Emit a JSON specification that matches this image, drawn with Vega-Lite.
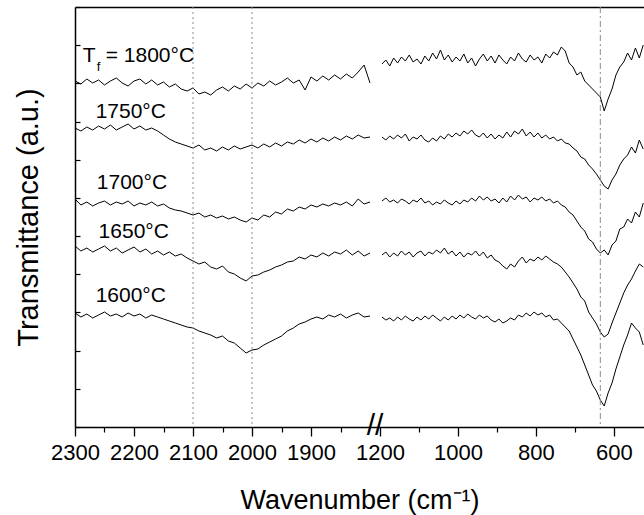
{
"$schema": "https://vega.github.io/schema/vega-lite/v6.json",
"width": 569, "height": 420,
"autosize": {"type": "none"},
"padding": {"left": 75, "top": 7, "right": 0, "bottom": 88},
"config": {"font": "Liberation Sans", "view": {"stroke": null},
  "axis": {"domainColor": "#000", "tickColor": "#000", "labelColor": "#000", "titleColor": "#000", "grid": false, "titleFontWeight": "normal"}},
"datasets": {
"spec": [
{"w":2300,"p":"L","a":346,"b":299,"c":228,"d":181,"e":114},
{"w":2290,"p":"L","a":343,"b":296,"c":222,"d":176,"e":110},
{"w":2280,"p":"L","a":348,"b":300,"c":225,"d":179,"e":113},
{"w":2270,"p":"L","a":344,"b":297,"c":221,"d":175,"e":109},
{"w":2260,"p":"L","a":347,"b":301,"c":224,"d":178,"e":112},
{"w":2250,"p":"L","a":342,"b":298,"c":226,"d":181,"e":115},
{"w":2240,"p":"L","a":346,"b":302,"c":222,"d":176,"e":111},
{"w":2230,"p":"L","a":349,"b":297,"c":225,"d":179,"e":113},
{"w":2220,"p":"L","a":344,"b":300,"c":223,"d":174,"e":110},
{"w":2210,"p":"L","a":341,"b":303,"c":226,"d":177,"e":114},
{"w":2200,"p":"L","a":346,"b":298,"c":221,"d":180,"e":111},
{"w":2190,"p":"L","a":348,"b":301,"c":224,"d":175,"e":113},
{"w":2180,"p":"L","a":343,"b":297,"c":222,"d":178,"e":109},
{"w":2170,"p":"L","a":347,"b":299,"c":225,"d":173,"e":112},
{"w":2160,"p":"L","a":342,"b":296,"c":221,"d":176,"e":110},
{"w":2150,"p":"L","a":345,"b":292,"c":223,"d":172,"e":108},
{"w":2140,"p":"L","a":340,"b":288,"c":219,"d":175,"e":106},
{"w":2130,"p":"L","a":343,"b":285,"c":217,"d":171,"e":104},
{"w":2120,"p":"L","a":338,"b":283,"c":216,"d":173,"e":102},
{"w":2110,"p":"L","a":336,"b":281,"c":214,"d":169,"e":100},
{"w":2100,"p":"L","a":339,"b":279,"c":212,"d":166,"e":99},
{"w":2090,"p":"L","a":333,"b":282,"c":214,"d":163,"e":96},
{"w":2080,"p":"L","a":335,"b":277,"c":210,"d":165,"e":94},
{"w":2070,"p":"L","a":332,"b":279,"c":212,"d":160,"e":92},
{"w":2060,"p":"L","a":337,"b":276,"c":209,"d":158,"e":89},
{"w":2050,"p":"L","a":340,"b":280,"c":211,"d":161,"e":91},
{"w":2040,"p":"L","a":336,"b":277,"c":208,"d":155,"e":86},
{"w":2030,"p":"L","a":341,"b":281,"c":210,"d":153,"e":84},
{"w":2020,"p":"L","a":338,"b":278,"c":207,"d":149,"e":79},
{"w":2010,"p":"L","a":343,"b":280,"c":205,"d":146,"e":74},
{"w":2000,"p":"L","a":339,"b":282,"c":209,"d":151,"e":77},
{"w":1990,"p":"L","a":344,"b":279,"c":207,"d":152,"e":78},
{"w":1980,"p":"L","a":341,"b":283,"c":212,"d":155,"e":82},
{"w":1970,"p":"L","a":346,"b":280,"c":210,"d":157,"e":85},
{"w":1960,"p":"L","a":342,"b":284,"c":215,"d":160,"e":88},
{"w":1950,"p":"L","a":345,"b":281,"c":213,"d":162,"e":91},
{"w":1940,"p":"L","a":349,"b":285,"c":218,"d":165,"e":96},
{"w":1930,"p":"L","a":344,"b":283,"c":216,"d":166,"e":99},
{"w":1920,"p":"L","a":347,"b":287,"c":220,"d":170,"e":103},
{"w":1910,"p":"L","a":337,"b":284,"c":218,"d":168,"e":105},
{"w":1900,"p":"L","a":350,"b":288,"c":222,"d":172,"e":108},
{"w":1890,"p":"L","a":346,"b":285,"c":220,"d":170,"e":110},
{"w":1880,"p":"L","a":351,"b":289,"c":223,"d":174,"e":108},
{"w":1870,"p":"L","a":347,"b":286,"c":221,"d":171,"e":112},
{"w":1860,"p":"L","a":352,"b":290,"c":224,"d":175,"e":110},
{"w":1850,"p":"L","a":348,"b":287,"c":222,"d":173,"e":113},
{"w":1840,"p":"L","a":353,"b":291,"c":225,"d":177,"e":109},
{"w":1830,"p":"L","a":349,"b":288,"c":221,"d":172,"e":112},
{"w":1820,"p":"L","a":355,"b":292,"c":228,"d":176,"e":114},
{"w":1810,"p":"L","a":362,"b":289,"c":223,"d":171,"e":110},
{"w":1800,"p":"L","a":344,"b":290,"c":225,"d":174,"e":111},
{"w":1195,"p":"R","a":363,"b":290,"c":226,"d":172,"e":110},
{"w":1185,"p":"R","a":367,"b":287,"c":229,"d":175,"e":107},
{"w":1175,"p":"R","a":361,"b":291,"c":225,"d":170,"e":109},
{"w":1165,"p":"R","a":369,"b":288,"c":227,"d":174,"e":106},
{"w":1155,"p":"R","a":364,"b":292,"c":224,"d":171,"e":110},
{"w":1145,"p":"R","a":370,"b":289,"c":228,"d":176,"e":107},
{"w":1135,"p":"R","a":366,"b":293,"c":226,"d":172,"e":111},
{"w":1125,"p":"R","a":372,"b":286,"c":223,"d":175,"e":108},
{"w":1115,"p":"R","a":365,"b":290,"c":227,"d":170,"e":106},
{"w":1105,"p":"R","a":368,"b":288,"c":225,"d":174,"e":110},
{"w":1095,"p":"R","a":363,"b":292,"c":229,"d":176,"e":107},
{"w":1085,"p":"R","a":371,"b":287,"c":224,"d":171,"e":111},
{"w":1075,"p":"R","a":366,"b":285,"c":226,"d":175,"e":108},
{"w":1065,"p":"R","a":374,"b":289,"c":222,"d":173,"e":112},
{"w":1055,"p":"R","a":368,"b":286,"c":225,"d":177,"e":109},
{"w":1045,"p":"R","a":377,"b":291,"c":223,"d":174,"e":106},
{"w":1035,"p":"R","a":367,"b":288,"c":227,"d":179,"e":110},
{"w":1025,"p":"R","a":372,"b":293,"c":224,"d":173,"e":107},
{"w":1015,"p":"R","a":365,"b":290,"c":222,"d":176,"e":111},
{"w":1005,"p":"R","a":370,"b":294,"c":226,"d":171,"e":108},
{"w":995,"p":"R","a":366,"b":291,"c":223,"d":175,"e":112},
{"w":985,"p":"R","a":373,"b":296,"c":227,"d":170,"e":109},
{"w":975,"p":"R","a":364,"b":293,"c":225,"d":174,"e":113},
{"w":965,"p":"R","a":369,"b":297,"c":229,"d":172,"e":110},
{"w":955,"p":"R","a":361,"b":292,"c":226,"d":176,"e":108},
{"w":945,"p":"R","a":368,"b":290,"c":231,"d":171,"e":112},
{"w":935,"p":"R","a":373,"b":294,"c":227,"d":175,"e":109},
{"w":925,"p":"R","a":366,"b":289,"c":230,"d":169,"e":111},
{"w":915,"p":"R","a":371,"b":293,"c":226,"d":172,"e":107},
{"w":905,"p":"R","a":364,"b":288,"c":228,"d":167,"e":105},
{"w":895,"p":"R","a":372,"b":292,"c":224,"d":165,"e":108},
{"w":885,"p":"R","a":367,"b":289,"c":229,"d":161,"e":104},
{"w":875,"p":"R","a":363,"b":295,"c":225,"d":158,"e":106},
{"w":865,"p":"R","a":370,"b":290,"c":231,"d":163,"e":109},
{"w":855,"p":"R","a":366,"b":296,"c":227,"d":160,"e":107},
{"w":845,"p":"R","a":374,"b":293,"c":232,"d":166,"e":112},
{"w":835,"p":"R","a":368,"b":298,"c":228,"d":170,"e":110},
{"w":825,"p":"R","a":365,"b":291,"c":230,"d":164,"e":114},
{"w":815,"p":"R","a":372,"b":295,"c":225,"d":168,"e":111},
{"w":805,"p":"R","a":367,"b":290,"c":229,"d":166,"e":115},
{"w":795,"p":"R","a":370,"b":294,"c":227,"d":170,"e":112},
{"w":785,"p":"R","a":364,"b":289,"c":230,"d":167,"e":114},
{"w":775,"p":"R","a":373,"b":292,"c":226,"d":171,"e":110},
{"w":765,"p":"R","a":369,"b":288,"c":228,"d":168,"e":112},
{"w":755,"p":"R","a":375,"b":290,"c":224,"d":165,"e":107},
{"w":745,"p":"R","a":372,"b":286,"c":226,"d":163,"e":108},
{"w":735,"p":"R","a":380,"b":288,"c":222,"d":160,"e":104},
{"w":725,"p":"R","a":376,"b":284,"c":220,"d":155,"e":100},
{"w":715,"p":"R","a":364,"b":283,"c":215,"d":150,"e":96},
{"w":705,"p":"R","a":360,"b":279,"c":212,"d":144,"e":88},
{"w":695,"p":"R","a":352,"b":276,"c":206,"d":138,"e":80},
{"w":685,"p":"R","a":355,"b":270,"c":200,"d":130,"e":72},
{"w":675,"p":"R","a":346,"b":268,"c":196,"d":126,"e":62},
{"w":665,"p":"R","a":342,"b":262,"c":188,"d":115,"e":52},
{"w":655,"p":"R","a":338,"b":258,"c":185,"d":109,"e":42},
{"w":645,"p":"R","a":334,"b":253,"c":178,"d":103,"e":36},
{"w":635,"p":"R","a":330,"b":247,"c":174,"d":95,"e":27},
{"w":625,"p":"R","a":316,"b":241,"c":177,"d":90,"e":21},
{"w":615,"p":"R","a":328,"b":238,"c":172,"d":93,"e":34},
{"w":605,"p":"R","a":338,"b":247,"c":182,"d":104,"e":44},
{"w":595,"p":"R","a":352,"b":253,"c":186,"d":114,"e":58},
{"w":585,"p":"R","a":360,"b":262,"c":198,"d":124,"e":70},
{"w":575,"p":"R","a":365,"b":268,"c":200,"d":134,"e":82},
{"w":565,"p":"R","a":374,"b":272,"c":208,"d":142,"e":92},
{"w":555,"p":"R","a":367,"b":280,"c":204,"d":148,"e":104},
{"w":545,"p":"R","a":379,"b":274,"c":215,"d":156,"e":99},
{"w":535,"p":"R","a":369,"b":287,"c":210,"d":163,"e":95},
{"w":525,"p":"R","a":382,"b":278,"c":224,"d":160,"e":82}
],
"labels": [
{"t":"T","w":2287,"v":365},
{"t":"= 1800°C","w":2248,"v":365},
{"t":"1750°C","w":2265,"v":309},
{"t":"1700°C","w":2263,"v":238},
{"t":"1650°C","w":2260,"v":189},
{"t":"1600°C","w":2265,"v":125}
],
"sub": [{"t":"f","w":2263,"v":356}],
"dotted": [{"w":2100},{"w":2000}],
"dashdot": [{"w":635}],
"brk": [{"t":"//","w":1500,"v":0}]
},
"layer": [
{
 "data": {"name": "spec"},
 "transform": [{"fold": ["a","b","c","d","e"], "as": ["s","v"]}],
 "mark": {"type": "line", "stroke": "#000", "strokeWidth": 1},
 "encoding": {
  "x": {"field": "w", "type": "quantitative",
   "scale": {"domain": [2300,1800,1200,523], "range": [0,295,305,569], "nice": false, "zero": false},
   "axis": {"orient": "bottom", "values": [2300,2200,2100,2000,1900,1200,1000,800,600], "format": "d",
     "tickSize": 9, "tickWidth": 1.3, "domainWidth": 1.5, "labelFontSize": 22, "labelPadding": 6,
     "labelFlush": false, "labelOverlap": false, "labelBound": false,
     "title": "Wavenumber (cm⁻¹)", "titleFontSize": 27, "titlePadding": 24}},
  "y": {"field": "v", "type": "quantitative",
   "scale": {"domain": [0,420], "nice": false, "zero": false},
   "axis": {"orient": "left", "values": [0,38.18,76.36,114.55,152.73,190.91,229.09,267.27,305.45,343.64,381.82,420],
     "labels": false, "tickSize": -5, "tickWidth": 1.2, "domainWidth": 1.5,
     "title": "Transmittance (a.u.)", "titleFontSize": 29, "titlePadding": 31}},
  "detail": [{"field": "s"}, {"field": "p"}]
 }
},
{
 "data": {"name": "dotted"},
 "mark": {"type": "rule", "stroke": "#8c8c8c", "strokeWidth": 1, "strokeDash": [2,3]},
 "encoding": {
  "x": {"field": "w", "type": "quantitative",
   "scale": {"domain": [2300,1800,1200,523], "range": [0,295,305,569], "nice": false, "zero": false},
   "axis": {"orient": "bottom", "values": [2250,2150,2050,1950,1850,1100,900,700], "labels": false,
     "domain": false, "tickSize": 5, "tickWidth": 1.2, "title": null}}
 }
},
{
 "data": {"name": "dashdot"},
 "mark": {"type": "rule", "stroke": "#8c8c8c", "strokeWidth": 1, "strokeDash": [6,3,2,3]},
 "encoding": {
  "x": {"field": "w", "type": "quantitative",
   "scale": {"domain": [2300,1800,1200,523], "range": [0,295,305,569], "nice": false, "zero": false},
   "axis": null}
 }
},
{
 "data": {"name": "labels"},
 "mark": {"type": "text", "fontSize": 21, "align": "left", "baseline": "alphabetic", "color": "#000"},
 "encoding": {
  "x": {"field": "w", "type": "quantitative",
   "scale": {"domain": [2300,1800,1200,523], "range": [0,295,305,569], "nice": false, "zero": false},
   "axis": {"orient": "top", "ticks": false, "labels": false, "domain": true, "domainWidth": 1.5, "title": null}},
  "y": {"field": "v", "type": "quantitative", "scale": {"domain": [0,420], "nice": false, "zero": false}, "axis": null},
  "text": {"field": "t"}
 }
},
{
 "data": {"name": "sub"},
 "mark": {"type": "text", "fontSize": 13, "align": "left", "baseline": "alphabetic", "color": "#000"},
 "encoding": {
  "x": {"field": "w", "type": "quantitative",
   "scale": {"domain": [2300,1800,1200,523], "range": [0,295,305,569], "nice": false, "zero": false}, "axis": null},
  "y": {"field": "v", "type": "quantitative", "scale": {"domain": [0,420], "nice": false, "zero": false}, "axis": null},
  "text": {"field": "t"}
 }
},
{
 "data": {"name": "brk"},
 "mark": {"type": "text", "fontSize": 30, "align": "center", "baseline": "middle", "color": "#000", "clip": false, "dy": -1},
 "encoding": {
  "x": {"field": "w", "type": "quantitative",
   "scale": {"domain": [2300,1800,1200,523], "range": [0,295,305,569], "nice": false, "zero": false}, "axis": null},
  "y": {"field": "v", "type": "quantitative", "scale": {"domain": [0,420], "nice": false, "zero": false}, "axis": null},
  "text": {"field": "t"}
 }
}
],
"resolve": {"axis": {"x": "independent", "y": "independent"}}
}
